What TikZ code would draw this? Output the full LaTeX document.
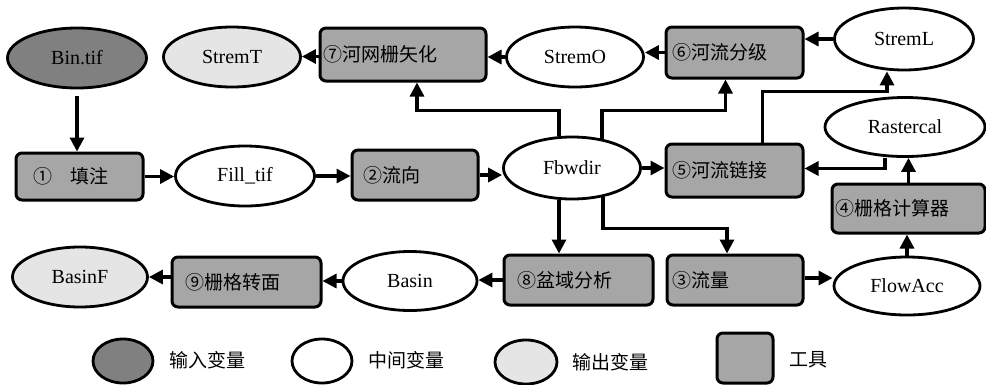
\documentclass[tikz,border=0pt]{standalone}
\usepackage{fontspec}
\setmainfont{Liberation Serif}
\newfontfamily\cjk{Noto Sans CJK SC}
\usetikzlibrary{shapes.geometric,arrows.meta}
\definecolor{toolgray}{RGB}{166,166,166}
\definecolor{ingray}{RGB}{128,128,128}
\definecolor{outgray}{RGB}{229,229,229}
\begin{document}
\begin{tikzpicture}[x=1pt,y=-1pt,
  var/.style={ellipse,draw,line width=2.8pt,inner sep=0pt,font=\fontsize{20}{22}\selectfont},
  invar/.style={var,fill=ingray},
  midvar/.style={var,fill=white},
  outvar/.style={var,fill=outgray},
  tool/.style={draw,line width=3pt,rounded corners=6pt,fill=toolgray,font=\cjk\fontsize{19}{22}\selectfont,align=left,inner ysep=0pt},
  lab/.style={font=\cjk\fontsize{19}{22}\selectfont,inner sep=0pt},
  arr/.style={line width=3.2pt,-{Triangle[length=14pt,width=14pt]}}
]
\useasboundingbox[fill=white] (0,0) rectangle (986,384);
% variables
\node[invar,minimum width=139,minimum height=60] (bin) at (77,58) {Bin.tif};
\node[outvar,minimum width=137,minimum height=60] (st) at (232,57) {StremT};
\node[midvar,minimum width=137,minimum height=60] (so) at (575,57) {StremO};
\node[midvar,minimum width=139,minimum height=62] (sl) at (904,39) {StremL};
\node[midvar,minimum width=160,minimum height=59] (rc) at (905,127) {Rastercal};
\node[midvar,minimum width=139,minimum height=60] (fill) at (245,176) {Fill\_tif};
\node[midvar,minimum width=137,minimum height=62] (fb) at (572,168) {Fbwdir};
\node[midvar,minimum width=146,minimum height=58] (fa) at (907,286) {FlowAcc};
\node[midvar,minimum width=134,minimum height=59] (basin) at (410,281) {Basin};
\node[outvar,minimum width=135,minimum height=60] (bf) at (80,277) {BasinF};
% tools
\node[tool,minimum height=47,inner xsep=17pt,text width=93pt] (t1) at (79.5,176.5) {①\hspace{0.95em}填注};
\node[tool,minimum height=50,inner xsep=11pt,text width=104pt] (t2) at (415,175) {②流向};
\node[tool,minimum height=50,inner xsep=5pt,text width=126pt] (t3) at (735,280) {③流量};
\node[tool,minimum height=49,inner xsep=3pt,text width=147pt] (t4) at (908.5,208.5) {④栅格计算器};
\node[tool,minimum height=53,inner xsep=6pt,text width=125pt] (t5) at (734.5,170.5) {⑤河流链接};
\node[tool,minimum height=51,inner xsep=6pt,text width=125pt] (t6) at (734.5,52.5) {⑥河流分级};
\node[tool,minimum height=53,inner xsep=3pt,text width=160pt] (t7) at (403,54.5) {⑦河网栅矢化};
\node[tool,minimum height=50,inner xsep=13pt,text width=123pt] (t8) at (578.5,280) {⑧盆域分析};
\node[tool,minimum height=50,inner xsep=13pt,text width=123pt] (t9) at (246.5,282) {⑨栅格转面};
% connectors
\draw[arr,shorten <=7pt] (bin.south) -- (bin.south |- t1.north);
\draw[arr] (t1.east) -- (t1.east -| fill.west);
\draw[arr] (fill.east) -- (fill.east -| t2.west);
\draw[arr] (t2.east) -- (t2.east -| fb.west);
\draw[arr] (fb.east) -- (fb.east -| t5.west);
\draw[arr] ([yshift=-2pt]t7.west) -- ([yshift=-2pt]t7.west -| st.east);
\draw[arr] ([xshift=-13pt]fb.north) -- ++(0,-25) -| ([xshift=14pt]t7.south);
\draw[arr] ([xshift=30pt]fb.north) ++(0,3) -- ++(0,-28) -| ([xshift=-9pt]t6.south);
\draw[arr] (so.west) -- (so.west -| t7.east);
\draw[arr] (t6.west) -- (t6.west -| so.east);
\draw[arr] (sl.west) -- (sl.west -| t6.east);
\draw[arr] ([xshift=28pt]t5.north) -- ++(0,-51) -| ([xshift=-17pt]sl.south);
\draw[arr] ([xshift=-20pt]rc.south) |- ([yshift=2pt]t5.east);
\draw[arr] (t4.north) -- (t4.north |- rc.south);
\draw[arr] (fa.north) -- (fa.north |- t4.south);
\draw[arr] ([yshift=2pt]t3.east) -- ([yshift=2pt]t3.east -| fa.west);
\draw[arr] ([xshift=31pt]fb.south) ++(0,-3) -- ++(0,31) -| ([xshift=-8pt]t3.north);
\draw[arr] ([xshift=-13pt]fb.south) -- ([xshift=-13pt]fb.south |- t8.north);
\draw[arr] (t8.west) -- (t8.west -| basin.east);
\draw[arr] (basin.west) -- (basin.west -| t9.east);
\draw[arr] ([yshift=5pt]t9.west) -- ([yshift=5pt]t9.west -| bf.east);
% legend
\node[invar,minimum width=60,minimum height=44] (l1) at (123,361) {};
\node[lab] (l1t) at (207,360) {输入变量};
\node[midvar,minimum width=60,minimum height=44] (l2) at (322,361) {};
\node[lab] (l2t) at (406,360) {中间变量};
\node[outvar,minimum width=62,minimum height=44] (l3) at (526,362) {};
\node[lab] (l3t) at (610,362) {输出变量};
\node[tool,minimum width=56,minimum height=50,inner sep=0pt] (l4) at (745,358) {};
\node[lab] (l4t) at (808,360) {工具};
\end{tikzpicture}
\end{document}
